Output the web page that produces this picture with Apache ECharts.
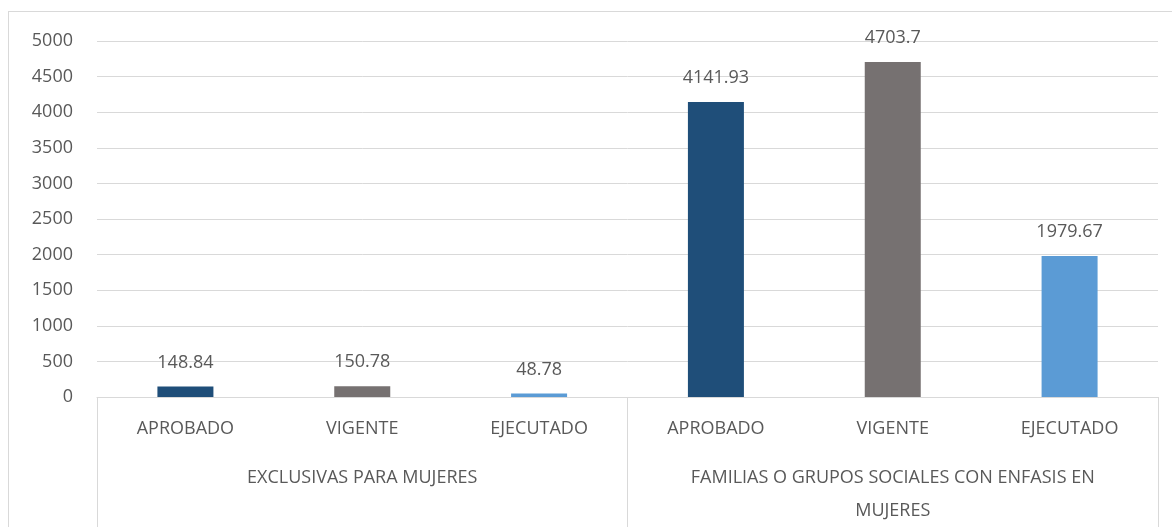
<!DOCTYPE html>
<html>
<head>
<meta charset="utf-8">
<script src="https://cdn.jsdelivr.net/npm/echarts@6/dist/echarts.min.js"></script>
<style>
  html, body { margin: 0; padding: 0; background: #fff; }
  #frame { position: absolute; left: 8px; top: 11px; width: 1172px; height: 530px; border: 1px solid #d9d9d9; box-sizing: border-box; }
  #chart { position: absolute; left: 0; top: 0; width: 1172px; height: 527px; }
</style>
</head>
<body>
<div id="frame"></div>
<div id="chart"></div>
<script>
// datos
const subCategories = ['APROBADO', 'VIGENTE', 'EJECUTADO', 'APROBADO', 'VIGENTE', 'EJECUTADO']
const groups = ['EXCLUSIVAS PARA MUJERES', 'FAMILIAS O GRUPOS SOCIALES CON ENFASIS EN\nMUJERES']
const values = [148.84, 150.78, 48.78, 4141.93, 4703.7, 1979.67]
const barColors = ['#1F4E79', '#767171', '#5B9BD5', '#1F4E79', '#767171', '#5B9BD5']

const font = 'Open Sans'
const textColor = '#595959'
const fs = 18

const myChart = echarts.init(document.getElementById('chart'))
const option = {
  animation: false,
  grid: { left: 97, right: 14, top: 41, bottom: 128 },
  xAxis: [
    {
      type: 'category',
      data: subCategories,
      position: 'bottom',
      axisLine: { show: true, lineStyle: { color: '#d9d9d9', width: 1 } },
      axisTick: { show: false },
      axisLabel: { color: textColor, fontFamily: font, fontSize: fs, margin: 23, interval: 0 }
    },
    {
      type: 'category',
      data: groups,
      position: 'bottom',
      axisLine: { show: false },
      axisTick: { show: true, length: 140, lineStyle: { color: '#d9d9d9' } },
      axisLabel: { color: textColor, fontFamily: font, fontSize: fs, margin: 64, lineHeight: 33, interval: 0, verticalAlign: 'top' }
    }
  ],
  yAxis: {
    type: 'value',
    min: 0,
    max: 5000,
    interval: 500,
    axisLine: { show: false },
    axisTick: { show: false },
    splitLine: { lineStyle: { color: '#d9d9d9', width: 1 } },
    axisLabel: {
      color: textColor, fontFamily: font, fontSize: fs, margin: 24,
      formatter: function (value) {
        return String(value)
      }
    }
  },
  series: [
    {
      type: 'bar',
      xAxisIndex: 0,
      barWidth: 56,
      data: values.map((v, i) => ({ value: v, itemStyle: { color: barColors[i] } })),
      label: {
        show: true,
        position: 'top',
        distance: 15,
        color: textColor,
        fontFamily: font,
        fontSize: fs
      }
    }
  ]
}
option && myChart.setOption(option)
</script>
</body>
</html>
